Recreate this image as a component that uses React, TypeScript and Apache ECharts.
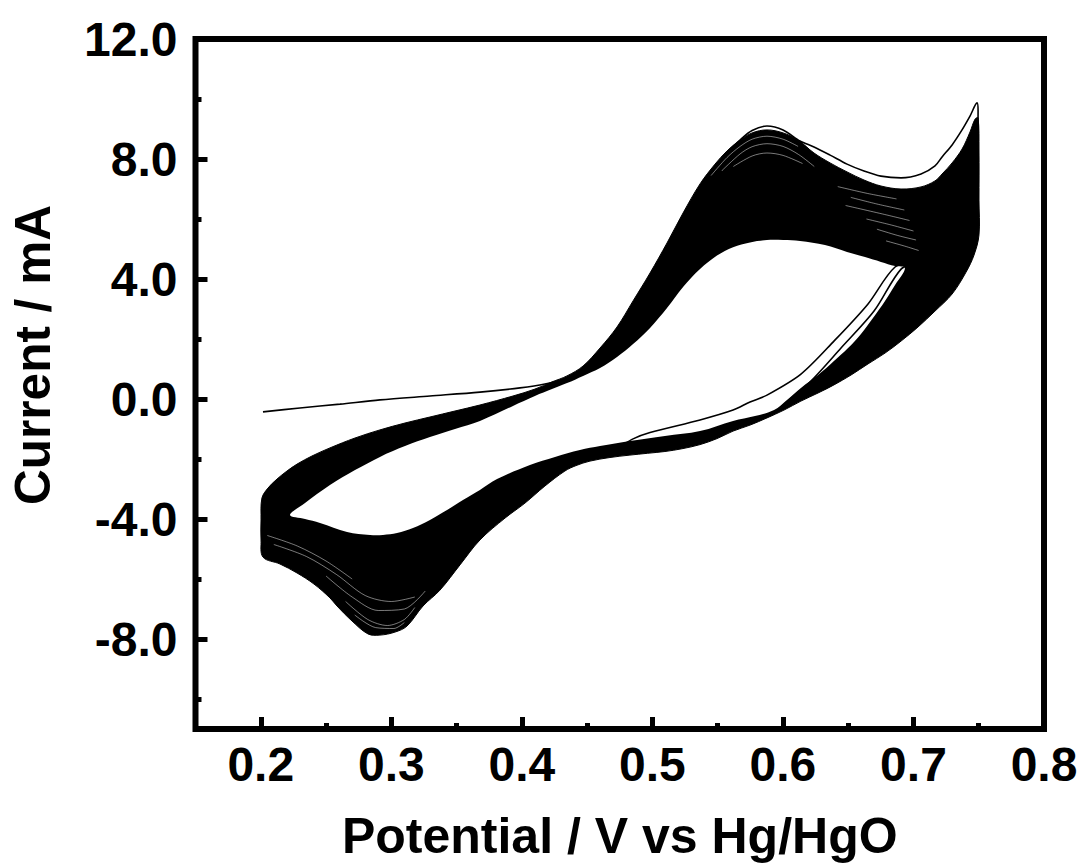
import React, { useEffect, useRef } from "react";
import * as echarts from "echarts";

type Pt = [number, number];

// Tick positions (V and mA)
const xMajorTicks = [0.2, 0.3, 0.4, 0.5, 0.6, 0.7, 0.8];
const xMinorTicks = [0.25, 0.35, 0.45, 0.55, 0.65, 0.75];
const yMajorTicks = [-8, -4, 0, 4, 8, 12];
const yMinorTicks = [-10, -6, -2, 2, 6, 10];

// First cycle: initial scan from 0.2 V, outermost anodic trace, first return trace
const cycle1: Pt[] = [
  [0.2017, -0.43], [0.23, -0.3], [0.2607, -0.17], [0.2913, -0.03], [0.3296, 0.1],
  [0.3679, 0.23], [0.3986, 0.37], [0.4177, 0.5], [0.435, 0.7], [0.447, 1.0],
  [0.461, 1.65], [0.474, 2.35], [0.4865, 3.2], [0.4995, 4.15], [0.5125, 5.15],
  [0.5248, 6.15], [0.5378, 7.12], [0.549, 7.8], [0.558, 8.25], [0.5675, 8.65],
  [0.5764, 8.95], [0.5878, 9.1], [0.6001, 8.97], [0.6131, 8.6], [0.6238, 8.4],
  [0.6361, 8.13], [0.6491, 7.83], [0.6621, 7.6], [0.6751, 7.43], [0.6905, 7.37],
  [0.7058, 7.5], [0.7165, 7.77], [0.7219, 8.07], [0.7296, 8.47], [0.7372, 8.97],
  [0.7433, 9.43], [0.7487, 9.87],
  [0.7495, 9.6], [0.7492, 8.8], [0.7475, 7.8], [0.743, 6.9], [0.735, 6.0],
  [0.722, 5.2], [0.706, 4.7], [0.6859, 4.4], [0.6652, 3.17], [0.6391, 1.93],
  [0.6138, 0.83], [0.5878, 0.13], [0.5748, -0.1], [0.5618, -0.37], [0.5365, -0.7],
  [0.4982, -1.12], [0.4852, -1.33], [0.47, -1.7], [0.45, -1.9], [0.43, -2.2],
  [0.41, -2.65], [0.39, -3.2], [0.37, -3.8], [0.35, -4.5], [0.33, -5.3],
  [0.31, -5.8], [0.29, -6.0], [0.27, -5.8], [0.25, -5.3], [0.23, -4.8],
  [0.21, -4.4], [0.2015, -4.3],
];

// Second cycle: return trace that runs just beside the first one
const cycle2: Pt[] = [
  [0.7495, 9.2], [0.749, 8.3], [0.747, 7.4], [0.742, 6.5], [0.733, 5.7],
  [0.72, 5.05], [0.705, 4.6], [0.6905, 4.33], [0.6698, 2.93], [0.6445, 1.7],
  [0.6215, 0.6], [0.6054, 0.0], [0.5932, -0.45], [0.575, -0.75], [0.55, -1.1],
  [0.52, -1.4], [0.49, -1.6],
];

// Outer envelope of the later, densely packed cycles
const bandOuter: Pt[] = [
  [0.2009, -3.3], [0.2055, -2.97], [0.2124, -2.67], [0.2201, -2.4], [0.2278, -2.17],
  [0.2392, -1.9], [0.253, -1.63], [0.2722, -1.3], [0.2913, -1.03], [0.3105, -0.8],
  [0.3296, -0.6], [0.3488, -0.4], [0.3679, -0.2], [0.3932, 0.1], [0.41, 0.33],
  [0.4231, 0.57], [0.4346, 0.77], [0.4469, 1.1], [0.4599, 1.7], [0.4729, 2.4],
  [0.4852, 3.27], [0.4982, 4.2], [0.5112, 5.2], [0.5235, 6.2], [0.5365, 7.17],
  [0.548, 7.83], [0.5572, 8.27], [0.5672, 8.63], [0.5764, 8.87], [0.5878, 8.97],
  [0.6001, 8.87], [0.6116, 8.63], [0.6238, 8.2], [0.6361, 7.87], [0.6491, 7.57],
  [0.6621, 7.3], [0.6751, 7.1], [0.6905, 7.0], [0.7058, 7.07], [0.7165, 7.27],
  [0.7219, 7.5], [0.7296, 7.87], [0.7372, 8.33], [0.7433, 8.9], [0.7472, 9.33],
  [0.7495, 9.37], [0.7502, 8.3], [0.7502, 6.63], [0.7502, 5.47], [0.7464, 4.8],
  [0.7403, 4.23], [0.7296, 3.5], [0.7165, 2.93], [0.7035, 2.4], [0.6905, 1.93],
  [0.6782, 1.53], [0.6652, 1.17], [0.6522, 0.8], [0.6391, 0.47], [0.6269, 0.2],
  [0.6138, -0.07], [0.6008, -0.37], [0.5878, -0.63], [0.5748, -0.87], [0.5618, -1.07],
  [0.5495, -1.32], [0.5365, -1.52], [0.5225, -1.66], [0.5096, -1.75], [0.4962, -1.81],
  [0.4828, -1.87], [0.4675, -1.95], [0.4522, -2.07], [0.4415, -2.22], [0.433, -2.4],
  [0.4177, -2.9], [0.4024, -3.47], [0.3871, -3.97], [0.3679, -4.7],
  [0.3526, -5.53], [0.3373, -6.37], [0.3243, -6.9], [0.312, -7.57], [0.3028, -7.77],
  [0.2913, -7.87], [0.2821, -7.83], [0.2699, -7.4], [0.2584, -6.9], [0.253, -6.63],
  [0.2408, -6.17], [0.2278, -5.8], [0.2147, -5.5], [0.2017, -5.27], [0.2002, -4.7],
  [0.2002, -4.03],
];

// Inner boundary of the bundle (open area inside the loops)
const bandInner: Pt[] = [
  [0.2224, -3.87], [0.2339, -3.47], [0.253, -2.87], [0.2722, -2.37], [0.2913, -1.93],
  [0.3105, -1.57], [0.3296, -1.27], [0.3488, -1.0], [0.3679, -0.73], [0.3932, -0.23],
  [0.41, 0.1], [0.4231, 0.33], [0.4346, 0.53], [0.4469, 0.77], [0.4599, 1.03],
  [0.4729, 1.4], [0.4852, 1.83], [0.4982, 2.37], [0.5112, 3.03], [0.5235, 3.73],
  [0.5365, 4.33], [0.5495, 4.78], [0.5618, 5.06], [0.5748, 5.22], [0.5878, 5.3],
  [0.6001, 5.3], [0.6131, 5.27], [0.6322, 5.13], [0.6491, 4.9], [0.6629, 4.73],
  [0.6751, 4.57], [0.6859, 4.43], [0.6935, 4.37], [0.6859, 3.8], [0.6782, 3.27],
  [0.669, 2.7], [0.6598, 2.17], [0.6499, 1.7], [0.6391, 1.27], [0.6269, 0.8],
  [0.6138, 0.37], [0.6031, -0.03], [0.5932, -0.37], [0.5786, -0.57], [0.5618, -0.73],
  [0.5365, -1.07], [0.5096, -1.23], [0.4828, -1.4], [0.4599, -1.57], [0.4445, -1.7],
  [0.4254, -1.93], [0.4062, -2.2], [0.381, -2.67], [0.3679, -3.03], [0.3549, -3.37],
  [0.3427, -3.7], [0.3296, -4.03], [0.3166, -4.3], [0.3044, -4.47], [0.2936, -4.53],
  [0.2837, -4.53], [0.2661, -4.43], [0.2454, -4.13], [0.2339, -4.0],
];

// Thin open gaps between neighbouring cycles inside the bundle
const gapTraces: Pt[][] = [
  // near the anodic peak
  [[0.545, 7.45], [0.5572, 8.05], [0.5672, 8.42], [0.5764, 8.66], [0.5878, 8.76], [0.6001, 8.66], [0.6116, 8.42]],
  [[0.553, 7.6], [0.5672, 8.17], [0.5764, 8.41], [0.5878, 8.51], [0.6001, 8.42], [0.612, 8.15], [0.624, 7.75]],
  [[0.562, 7.75], [0.5764, 8.1], [0.5878, 8.2], [0.6001, 8.12], [0.615, 7.85]],
  // around the dip before the vertex
  [[0.642, 7.08], [0.665, 6.85], [0.687, 6.67]],
  [[0.652, 6.72], [0.672, 6.5], [0.693, 6.3]],
  [[0.648, 6.45], [0.678, 6.15], [0.697, 5.95]],
  [[0.664, 6.0], [0.683, 5.8], [0.7, 5.6]],
  [[0.672, 5.66], [0.688, 5.45], [0.702, 5.3]],
  [[0.679, 5.27], [0.693, 5.1], [0.704, 4.95]],
  // around the cathodic peak
  [[0.205, -4.55], [0.228, -4.9], [0.25, -5.4], [0.27, -6.0]],
  [[0.21, -4.85], [0.235, -5.25], [0.258, -5.85], [0.28, -6.55], [0.3, -6.75], [0.318, -6.6]],
  [[0.25, -5.9], [0.27, -6.6], [0.29, -7.05], [0.31, -7.0], [0.326, -6.4]],
  [[0.265, -6.75], [0.282, -7.35], [0.297, -7.55], [0.31, -7.35], [0.318, -6.95]],
  [[0.272, -7.2], [0.288, -7.62], [0.302, -7.65], [0.31, -7.45]],
];

const FONT = "'Liberation Sans', Arial, Helvetica, sans-serif";

export default function App() {
  const ref = useRef<HTMLDivElement>(null);

  useEffect(() => {
    if (!ref.current) return;
    const chart = echarts.init(ref.current, null, { renderer: "svg" });

    const labelStyle = {
      fontSize: 48,
      fontWeight: "bold" as const,
      fontFamily: FONT,
      color: "#000",
    };
    const tickLine = { color: "#000", width: 5 };

    const lineSeries = (name: string, data: Pt[], color: string, width: number, z: number) => ({
      type: "line",
      name,
      data,
      showSymbol: false,
      symbol: "none",
      smooth: 0.3,
      silent: true,
      z,
      lineStyle: { color, width },
    });

    const option: any = {
      animation: false,
      backgroundColor: "#fff",
      grid: {
        left: 195.5,
        right: 42,
        top: 39,
        bottom: 138,
        show: true,
        borderColor: "#000",
        borderWidth: 6,
        backgroundColor: "transparent",
      },
      xAxis: [
        {
          type: "value",
          min: 0.15,
          max: 0.8,
          position: "bottom",
          axisLine: { show: false, onZero: false },
          splitLine: { show: false },
          axisTick: { show: true, inside: true, length: 12, customValues: xMajorTicks, lineStyle: tickLine },
          axisLabel: {
            ...labelStyle,
            customValues: xMajorTicks,
            formatter: (v: number) => v.toFixed(1),
            margin: 11,
          },
          name: "Potential / V vs Hg/HgO",
          nameLocation: "middle",
          nameGap: 82,
          nameTextStyle: { ...labelStyle, fontSize: 50 },
        },
        {
          type: "value",
          min: 0.15,
          max: 0.8,
          position: "bottom",
          axisLine: { show: false, onZero: false },
          splitLine: { show: false },
          axisTick: { show: true, inside: true, length: 6, customValues: xMinorTicks, lineStyle: tickLine },
          axisLabel: { show: false },
        },
      ],
      yAxis: [
        {
          type: "value",
          min: -11,
          max: 12,
          position: "left",
          axisLine: { show: false, onZero: false },
          splitLine: { show: false },
          axisTick: { show: true, inside: true, length: 12, customValues: yMajorTicks, lineStyle: tickLine },
          axisLabel: {
            ...labelStyle,
            customValues: yMajorTicks,
            formatter: (v: number) => v.toFixed(1),
            margin: 18,
          },
        },
        {
          type: "value",
          min: -11,
          max: 12,
          position: "left",
          axisLine: { show: false, onZero: false },
          splitLine: { show: false },
          axisTick: { show: true, inside: true, length: 6, customValues: yMinorTicks, lineStyle: tickLine },
          axisLabel: { show: false },
        },
      ],
      graphic: [
        {
          type: "text",
          x: 32,
          y: 355,
          rotation: Math.PI / 2,
          style: {
            text: "Current / mA",
            fill: "#000",
            font: `bold 49.5px ${FONT}`,
            align: "center",
            verticalAlign: "middle",
            textAlign: "center",
            textVerticalAlign: "middle",
          },
        },
      ],
      series: [
        {
          type: "custom",
          coordinateSystem: "cartesian2d",
          xAxisIndex: 0,
          yAxisIndex: 0,
          silent: true,
          z: 2,
          data: [[0.5, 0]],
          encode: { x: 0, y: 1 },
          renderItem: (_params: any, api: any) => ({
            type: "group",
            children: [
              {
                type: "polygon",
                shape: { points: bandOuter.map((p) => api.coord(p)), smooth: 0.35 },
                style: { fill: "#000", stroke: "#000", lineWidth: 1 },
              },
              {
                type: "polygon",
                shape: { points: bandInner.map((p) => api.coord(p)), smooth: 0.35 },
                style: { fill: "#fff" },
              },
            ],
          }),
        },
        ...gapTraces.map((g, i) => lineSeries(`gap ${i + 1}`, g, "rgba(255,255,255,0.8)", 0.6, 3)),
        lineSeries("cycle 1", cycle1, "#000", 1.6, 4),
        lineSeries("cycle 2", cycle2, "#000", 1.6, 4),
      ],
    };

    chart.setOption(option);
    return () => chart.dispose();
  }, []);

  return (
    <div
      ref={ref}
      style={{ position: "absolute", left: 0, top: 0, width: 1086, height: 867, background: "#fff" }}
    />
  );
}
